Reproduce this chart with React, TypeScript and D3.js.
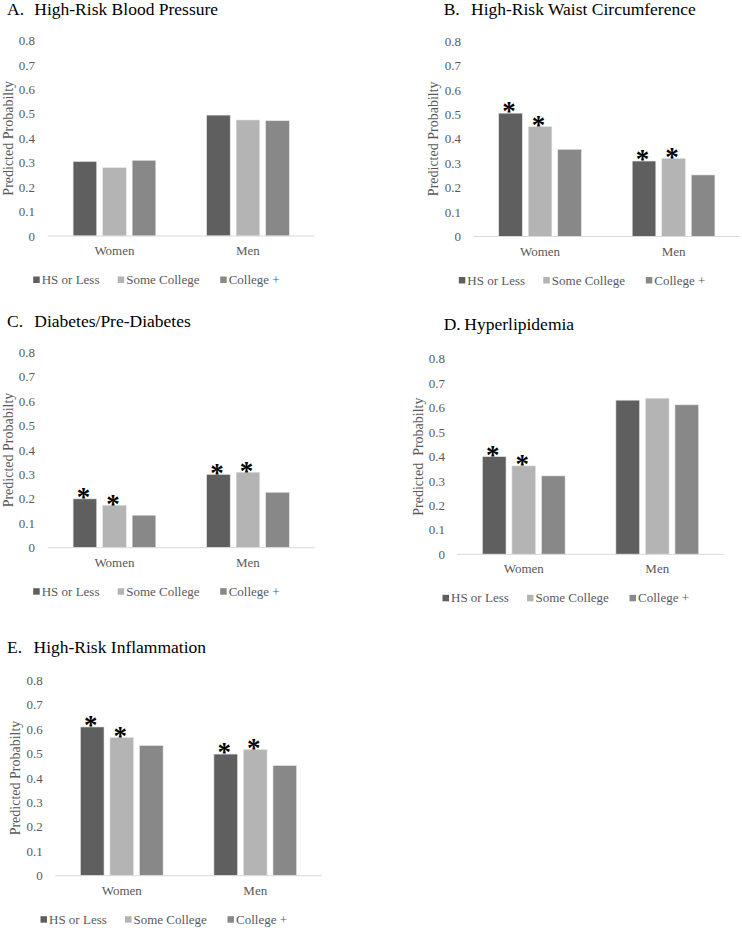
import { useRef, useEffect } from "react";
import * as d3 from "d3";

const groups = ["Women", "Men"];
const levels = ["HS or Less", "Some College", "College +"];
const levelColors = ["#5f5f5f", "#b4b4b4", "#888888"];
const tickValues = [0, 0.1, 0.2, 0.3, 0.4, 0.5, 0.6, 0.7, 0.8];
const tickLabels = ["0", "0.1", "0.2", "0.3", "0.4", "0.5", "0.6", "0.7", "0.8"];

// [women, men] x [HS or less, some college, college +]
const bloodPressure = [
  [0.305, 0.28, 0.31],
  [0.495, 0.475, 0.472],
];
const waist = [
  [0.505, 0.45, 0.357],
  [0.309, 0.32, 0.252],
];
const diabetes = [
  [0.2, 0.174, 0.133],
  [0.3, 0.309, 0.227],
];
const lipids = [
  [0.4, 0.362, 0.321],
  [0.631, 0.639, 0.612],
];
const inflammation = [
  [0.609, 0.566, 0.533],
  [0.498, 0.517, 0.451],
];

const noStars = [
  [false, false, false],
  [false, false, false],
];
const bothStars = [
  [true, true, false],
  [true, true, false],
];
const womenStars = [
  [true, true, false],
  [false, false, false],
];

const panels = [
  { letter: "A.", title: "High-Risk Blood Pressure", values: bloodPressure, stars: noStars, yLabel: "Predicted Probabilty",
    x0: 47.7, y0: 236, titleX: 7, titleY: 15, tickRight: 35, yLabelX: 8.3, gap: 27.3 },
  { letter: "B.", title: "High-Risk Waist Circumference", values: waist, stars: bothStars, yLabel: "Predicted Probabilty",
    x0: 473.3, y0: 236.5, titleX: 443.7, titleY: 15, tickRight: 461, yLabelX: 432.7, gap: 27.3 },
  { letter: "C.", title: "Diabetes/Pre-Diabetes", values: diabetes, stars: bothStars, yLabel: "Predicted Probabilty",
    x0: 47.7, y0: 547.7, titleX: 7, titleY: 326.7, tickRight: 35, yLabelX: 8.3, gap: 27.3 },
  { letter: "D.", title: "Hyperlipidemia", values: lipids, stars: womenStars, yLabel: "Predicted  Probabilty",
    x0: 457, y0: 554.3, titleX: 443.7, titleY: 330, tickRight: 445, yLabelX: 417.7, gap: 20.6 },
  { letter: "E.", title: "High-Risk Inflammation", values: inflammation, stars: bothStars, yLabel: "Predicted Probabilty",
    x0: 55, y0: 875.7, titleX: 7, titleY: 653.3, tickRight: 42.7, yLabelX: 15, gap: 26.5 },
];

const W = 742;
const H = 928;
const PLOT_W = 267;
const PLOT_H = 195.4;
const FONT = "Liberation Serif";
const TEXT_GRAY = "#595959";

const App = () => {
  const svgRef = useRef<SVGSVGElement>(null);

  useEffect(() => {
    const svg = d3.select(svgRef.current);
    svg.selectAll("*").remove();

    panels.forEach((p) => {
      const g = svg.append("g").style("font-family", FONT);

      const x = d3.scaleBand().domain(groups).range([p.x0, p.x0 + PLOT_W]).padding(0);
      const xInner = d3
        .scaleBand()
        .domain(levels)
        .range([0, x.bandwidth()])
        .paddingInner(0.2)
        .paddingOuter(0.86);
      const y = d3.scaleLinear().domain([0, 0.8]).range([p.y0, p.y0 - PLOT_H]);

      // title
      const title = g.append("text").attr("x", p.titleX).attr("y", p.titleY).attr("font-size", 17.5).attr("fill", "#000");
      title.append("tspan").text(p.letter);
      title.append("tspan").attr("x", p.titleX + p.gap).text(p.title);

      // y tick labels
      g.selectAll(".tick")
        .data(tickValues)
        .enter()
        .append("text")
        .attr("x", p.tickRight)
        .attr("y", (d) => y(d))
        .attr("dy", "0.35em")
        .attr("text-anchor", "end")
        .attr("font-size", 13)
        .attr("fill", TEXT_GRAY)
        .text((d, i) => tickLabels[i]);

      // y axis title
      g.append("text")
        .attr("transform", `translate(${p.yLabelX},${y(0.4)}) rotate(-90)`)
        .attr("text-anchor", "middle")
        .attr("dy", "0.35em")
        .attr("font-size", 14)
        .attr("fill", TEXT_GRAY)
        .style("white-space", "pre")
        .text(p.yLabel);

      // bars
      groups.forEach((grp, gi) => {
        levels.forEach((lvl, li) => {
          const v = p.values[gi][li];
          const bx = (x(grp) as number) + (xInner(lvl) as number);
          g.append("rect")
            .attr("x", bx)
            .attr("y", y(v))
            .attr("width", xInner.bandwidth())
            .attr("height", y(0) - y(v))
            .attr("fill", levelColors[li])
            .attr("stroke", "#e6e6e6")
            .attr("stroke-width", 0.6);
          if (p.stars[gi][li]) {
            g.append("text")
              .attr("x", bx + xInner.bandwidth() / 2 - 1.5)
              .attr("y", y(v) + 7.3)
              .attr("text-anchor", "middle")
              .attr("font-size", 27)
              .attr("font-weight", "bold")
              .attr("fill", "#000")
              .text("*");
          }
        });
      });

      // baseline
      g.append("line")
        .attr("x1", p.x0)
        .attr("x2", p.x0 + PLOT_W)
        .attr("y1", y(0))
        .attr("y2", y(0))
        .attr("stroke", "#d9d9d9")
        .attr("stroke-width", 1);

      // category labels
      g.selectAll(".cat")
        .data(groups)
        .enter()
        .append("text")
        .attr("x", (d) => (x(d) as number) + x.bandwidth() / 2)
        .attr("y", p.y0 + 19)
        .attr("text-anchor", "middle")
        .attr("font-size", 13)
        .attr("fill", TEXT_GRAY)
        .text((d) => d);

      // legend
      const legendX = [p.x0 - 6, p.x0 + 78.5, p.x0 + 181];
      levels.forEach((lvl, li) => {
        g.append("rect")
          .attr("x", legendX[li] - 8.5)
          .attr("y", p.y0 + 40.5)
          .attr("width", 6.5)
          .attr("height", 6.5)
          .attr("fill", levelColors[li]);
        g.append("text")
          .attr("x", legendX[li])
          .attr("y", p.y0 + 48)
          .attr("font-size", 13)
          .attr("fill", TEXT_GRAY)
          .text(lvl);
      });
    });
  }, []);

  return (
    <div style={{ position: "absolute", left: 0, top: 0, width: W, height: H, background: "#fff" }}>
      <svg ref={svgRef} width={W} height={H}></svg>
    </div>
  );
};

export default App;
